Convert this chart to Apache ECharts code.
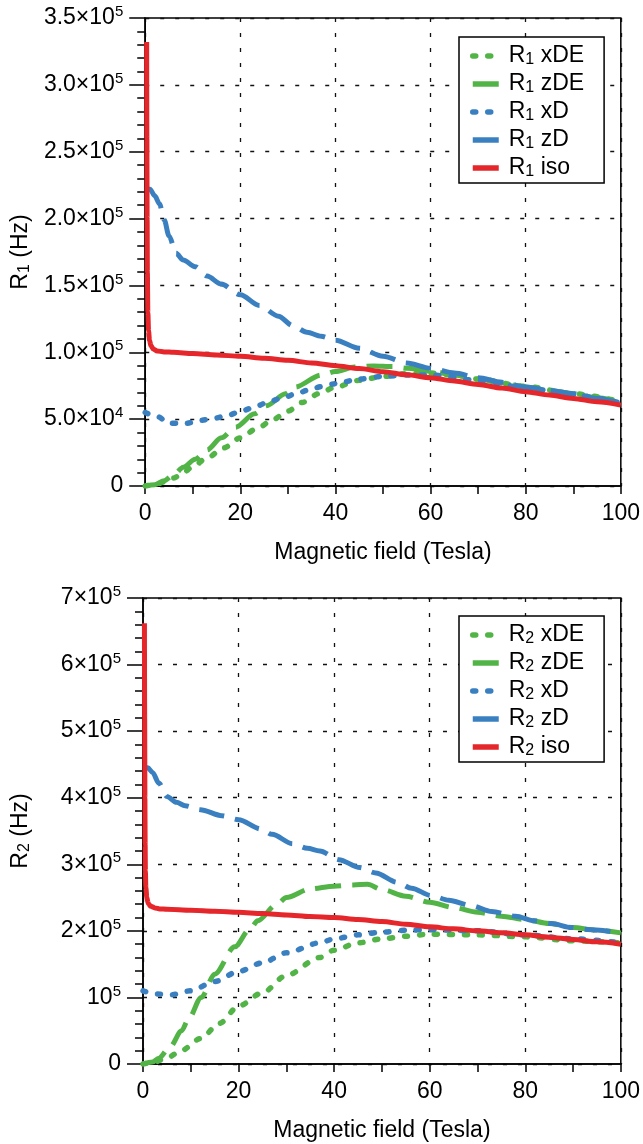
<!DOCTYPE html>
<html><head><meta charset="utf-8">
<script src="https://cdn.jsdelivr.net/npm/echarts@6/dist/echarts.min.js"></script>
<style>html,body{margin:0;padding:0;background:#fff}#c{width:643px;height:1144px}</style>
</head><body><div id="c"></div>
<script>
// ---- Data (field in Tesla, rates in units of 1e5 Hz) ----
// R1 panel
const r1xDE_B = [0, 2, 4, 6, 8, 10, 13, 16.5, 20, 23.5, 27, 30, 33, 36.5, 40, 45, 50, 55, 60, 65, 70, 80, 90, 100];
const r1xDE_R = [0, 0.008, 0.03, 0.06, 0.1, 0.145, 0.21, 0.285, 0.36, 0.43, 0.5, 0.56, 0.625, 0.69, 0.74, 0.79, 0.82, 0.84, 0.845, 0.83, 0.8, 0.745, 0.69, 0.63];
const r1zDE_B = [0, 2, 4, 6, 8, 10.5, 13, 16, 19, 23, 25.5, 29.5, 31.5, 37, 40, 44, 48, 52, 55, 60, 65, 70, 75, 80, 85, 90, 95, 100];
const r1zDE_R = [0, 0.01, 0.04, 0.085, 0.14, 0.2, 0.27, 0.36, 0.44, 0.54, 0.6, 0.69, 0.74, 0.83, 0.856, 0.89, 0.898, 0.893, 0.88, 0.86, 0.83, 0.8, 0.77, 0.74, 0.715, 0.69, 0.66, 0.63];
const r1xD_B = [0, 2.5, 5, 8.5, 11.5, 14.5, 17.5, 20.5, 23.5, 26, 29, 32, 34.5, 37, 40, 45, 50, 55, 60, 70, 80, 90, 100];
const r1xD_R = [0.55, 0.52, 0.47, 0.468, 0.49, 0.507, 0.531, 0.564, 0.599, 0.631, 0.661, 0.694, 0.719, 0.743, 0.765, 0.8, 0.82, 0.83, 0.83, 0.79, 0.735, 0.68, 0.62];
const r1zD_B = [0.3, 1, 2, 3, 4, 5, 6.5, 8, 10.5, 13, 16, 20, 24, 28, 31, 34, 37, 40, 45, 50, 55, 60, 65, 70, 75, 80, 85, 90, 95, 100];
const r1zD_R = [2.22, 2.22, 2.17, 2.11, 1.99, 1.87, 1.74, 1.69, 1.64, 1.57, 1.51, 1.43, 1.35, 1.27, 1.2, 1.15, 1.12, 1.09, 1.03, 0.97, 0.92, 0.88, 0.845, 0.81, 0.775, 0.74, 0.715, 0.69, 0.655, 0.62];
const r1iso_B = [0.3, 0.35, 0.4, 0.45, 0.55, 0.7, 0.9, 1.2, 1.7, 2.5, 4, 6, 10, 15, 20, 25, 30, 35, 40, 45, 50, 55, 60, 65, 70, 75, 80, 85, 90, 95, 100];
const r1iso_R = [3.32, 2.6, 2.0, 1.6, 1.3, 1.16, 1.09, 1.05, 1.025, 1.01, 1.003, 1.0, 0.99, 0.98, 0.97, 0.955, 0.94, 0.92, 0.9, 0.878, 0.855, 0.832, 0.81, 0.785, 0.76, 0.733, 0.705, 0.68, 0.655, 0.63, 0.605];
// R2 panel
const r2xDE_B = [0, 2, 5, 8, 12, 16, 20, 25, 30, 37, 40, 45, 50, 55, 60, 70, 80, 90, 100];
const r2xDE_R = [0, 0.02, 0.09, 0.2, 0.38, 0.61, 0.87, 1.07, 1.33, 1.6, 1.71, 1.82, 1.88, 1.92, 1.95, 1.94, 1.91, 1.85, 1.82];
const r2zDE_B = [0, 2, 3.3, 5.6, 8.1, 9.4, 12.2, 15, 19.2, 22.3, 24, 28, 30, 35, 40, 44, 47, 50, 55, 60, 65, 70, 75, 80, 85, 90, 95, 100];
const r2zDE_R = [0, 0.03, 0.087, 0.25, 0.5, 0.66, 1.0, 1.35, 1.76, 2.02, 2.15, 2.4, 2.5, 2.63, 2.67, 2.69, 2.7, 2.62, 2.52, 2.43, 2.35, 2.28, 2.22, 2.17, 2.11, 2.05, 2.01, 1.97];
const r2xD_B = [0, 3, 6, 10, 15, 20, 25, 30, 37, 40, 45, 50, 55, 60, 70, 80, 90, 100];
const r2xD_R = [1.1, 1.05, 1.04, 1.1, 1.24, 1.39, 1.52, 1.67, 1.82, 1.88, 1.94, 1.98, 2.01, 2.02, 2.0, 1.94, 1.88, 1.82];
const r2zD_B = [0.3, 1, 2, 3.3, 5, 7, 8.8, 12, 16.5, 20, 24.7, 27, 31.3, 34.4, 37, 41, 45.4, 48.7, 53.2, 56.2, 60.3, 64, 68.6, 73, 78, 82, 85.5, 89.7, 93, 100];
const r2zD_R = [4.45, 4.45, 4.38, 4.22, 4.02, 3.93, 3.88, 3.82, 3.73, 3.67, 3.53, 3.45, 3.31, 3.24, 3.2, 3.07, 2.95, 2.87, 2.73, 2.64, 2.53, 2.46, 2.38, 2.29, 2.22, 2.15, 2.11, 2.05, 2.02, 1.97];
const r2iso_B = [0.3, 0.35, 0.4, 0.45, 0.5, 0.6, 0.8, 1.1, 1.6, 2.5, 3.5, 5, 10, 15, 20, 25, 30, 35, 40, 45, 50, 55, 60, 65, 70, 75, 80, 85, 90, 95, 100];
const r2iso_R = [6.62, 5.2, 4.0, 3.3, 2.9, 2.65, 2.5, 2.41, 2.37, 2.345, 2.33, 2.325, 2.31, 2.295, 2.28, 2.26, 2.24, 2.215, 2.2, 2.17, 2.14, 2.1, 2.06, 2.03, 2.0, 1.97, 1.94, 1.905, 1.87, 1.835, 1.8];

// tick labels
const xTicks = ['0', '20', '40', '60', '80', '100'];
const r1TickLabels = ['0', '5.0×10{sup|4}', '1.0×10{sup|5}', '1.5×10{sup|5}', '2.0×10{sup|5}', '2.5×10{sup|5}', '3.0×10{sup|5}', '3.5×10{sup|5}'];
const r2TickLabels = ['0', '10{sup|5}', '2×10{sup|5}', '3×10{sup|5}', '4×10{sup|5}', '5×10{sup|5}', '6×10{sup|5}', '7×10{sup|5}'];
const seriesKeys = ['xDE', 'zDE', 'xD', 'zD', 'iso'];

// ---- Styles ----
const FONT = "'Liberation Sans', Arial, Helvetica, sans-serif";
const FS = 23;
const GREEN = '#52b447', BLUE = '#3a80c0', RED = '#e5262a';
const styles = {
  xDE: {color: GREEN, type: [3, 12], cap: 'round', width: 5.5},
  zDE: {color: GREEN, type: [26, 11], cap: 'butt', width: 5},
  xD:  {color: BLUE, type: [3, 12], cap: 'round', width: 5.5},
  zD:  {color: BLUE, type: [26, 11], cap: 'butt', width: 5},
  iso: {color: RED, type: 'solid', cap: 'butt', width: 5}
};
const panelData = [
  {xDE: [r1xDE_B, r1xDE_R], zDE: [r1zDE_B, r1zDE_R], xD: [r1xD_B, r1xD_R], zD: [r1zD_B, r1zD_R], iso: [r1iso_B, r1iso_R]},
  {xDE: [r2xDE_B, r2xDE_R], zDE: [r2zDE_B, r2zDE_R], xD: [r2xD_B, r2xD_R], zD: [r2zD_B, r2zD_R], iso: [r2iso_B, r2iso_R]}
];
const zip = (xs, ys) => xs.map((x, i) => [x, ys[i]]);
const nm = (p, k) => 'R' + (p + 1) + ' ' + k;

const series = [];
[0, 1].forEach(p => {
  seriesKeys.forEach(k => {
    const s = styles[k];
    series.push({
      type: 'line', name: nm(p, k), xAxisIndex: p, yAxisIndex: p,
      data: zip(panelData[p][k][0], panelData[p][k][1]),
      symbol: 'none', smooth: 0.3, smoothMonotone: 'x',
      lineStyle: {color: s.color, width: s.width, type: s.type, cap: s.cap, join: 'round'},
      itemStyle: {color: s.color},
      emphasis: {disabled: true},
      animation: false
    });
  });
});

const grids = [
  {left: 141, top: 18, width: 482, height: 468},
  {left: 141, top: 598, width: 482, height: 466}
].map(g => Object.assign(g, {show: true, borderColor: '#000', borderWidth: 1.5, backgroundColor: 'transparent'}));

const axisText = {color: '#000', fontFamily: FONT, fontSize: FS};
const gridDash = {color: '#111', width: 1.3, type: [4, 11]};

const xAxes = [0, 1].map(p => ({
  type: 'value', gridIndex: p, min: 0, max: 100, interval: 20,
  name: 'Magnetic field (Tesla)', nameLocation: 'middle', nameGap: 55,
  nameTextStyle: axisText,
  axisLine: {show: true, onZero: false, lineStyle: {color: '#000', width: 1.5}},
  axisTick: {show: true, length: 8, lineStyle: {color: '#000', width: 1.5}},
  minorTick: {show: true, splitNumber: 2, length: 8, lineStyle: {color: '#000', width: 1.5}},
  axisLabel: Object.assign({margin: 16, formatter: v => xTicks[Math.round(v / 20)]}, axisText),
  splitLine: {show: true, lineStyle: gridDash}
}));

const supRich = {sup: {fontSize: 15, lineHeight: 15, verticalAlign: 'top', fontFamily: FONT, color: '#000'}};
const subRich = {sub: {fontSize: 16, lineHeight: 16, verticalAlign: 'bottom', fontFamily: FONT, color: '#000'}};

const yAxes = [0, 1].map(p => ({
  type: 'value', gridIndex: p, min: 0, max: p === 0 ? 3.5 : 7, interval: p === 0 ? 0.5 : 1,
  name: 'R{sub|' + (p + 1) + '} (Hz)', nameLocation: 'middle', nameGap: 110,
  nameTextStyle: Object.assign({lineHeight: 25, rich: subRich}, axisText),
  axisLine: {show: true, onZero: false, lineStyle: {color: '#000', width: 1.5}},
  axisTick: {show: true, length: 16, lineStyle: {color: '#000', width: 1.5}},
  minorTick: {show: true, splitNumber: 5, length: 8, lineStyle: {color: '#000', width: 1.5}},
  axisLabel: Object.assign({
    margin: 22, lineHeight: 27, rich: supRich,
    formatter: v => (p === 0 ? r1TickLabels[Math.round(v / 0.5)] : r2TickLabels[Math.round(v)])
  }, axisText),
  splitLine: {show: true, lineStyle: gridDash}
}));

const legends = [0, 1].map(p => ({
  orient: 'vertical', left: 459, top: p === 0 ? 37 : 616,
  data: seriesKeys.map(k => nm(p, k)),
  formatter: name => 'R{sub|' + (p + 1) + '} ' + name.split(' ')[1],
  backgroundColor: '#fff',
  borderColor: '#000', borderWidth: 1.5, padding: [7, 20, 3, 11],
  itemWidth: 26, itemHeight: 14, itemGap: 4,
  selectedMode: false,
  itemStyle: {opacity: 0},
  lineStyle: {width: 5.5},
  textStyle: {color: '#000', fontFamily: FONT, fontSize: FS, lineHeight: 24, padding: [0, 0, 0, 5], rich: subRich}
}));

const chart = echarts.init(document.getElementById('c'), null, {renderer: 'canvas'});
chart.setOption({
  animation: false,
  backgroundColor: '#fff',
  grid: grids,
  xAxis: xAxes,
  yAxis: yAxes,
  legend: legends,
  series: series
});
</script>
</body></html>
